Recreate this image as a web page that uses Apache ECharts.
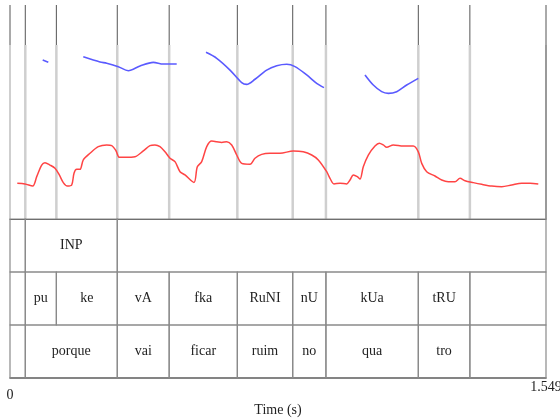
<!DOCTYPE html>
<html>
<head>
<meta charset="utf-8">
<script src="https://cdn.jsdelivr.net/npm/echarts@6/dist/echarts.min.js"></script>
<style>html,body{margin:0;padding:0;background:#fff}#c{width:560px;height:420px}</style>
</head>
<body>
<div id="c"></div>
<script>
// ---- data (time in s, contour heights in % of the plot panel) ----
var totalDuration = 1.549;
var tickLabels = [0, 1.549];
var axisName = 'Time (s)';

var pitchTime  = [0.0945,0.1107,null,0.2118,0.2601,0.2795,0.3130,0.3419,0.3757,0.4141,0.4430,0.4818,null,
                  0.5664,0.5974,0.6358,0.6696,0.6841,0.7080,0.7418,0.7708,0.7997,0.8236,0.8575,0.8863,0.9074,null,
                  1.0259,1.0499,1.0742,1.0933,1.1175,1.1464,1.1800];
var pitchValue = [74.3,73.2,null,75.8,73.4,72.8,71.2,69.3,71.5,73.2,72.4,72.4,null,
                  77.9,75.1,69.6,63.7,62.9,65.3,69.6,71.6,72.3,71.2,67.3,63.4,61.4,null,
                  67.3,62.6,59.5,58.7,59.5,62.6,65.7];

var intensityTime  = [0.0211,0.0433,0.0656,0.0772,0.0916,0.1011,0.1156,0.1300,0.1425,0.1540,0.1656,0.1783,0.1850,0.1928,0.2023,
                      0.2118,0.2312,0.2552,0.2795,0.2939,0.3063,0.3159,0.3323,0.3612,0.3852,0.4046,0.4190,0.4335,0.4479,0.4624,
                      0.4768,0.4913,0.5057,0.5317,0.5413,0.5540,0.5685,0.5829,0.5974,0.6118,0.6263,0.6407,0.6552,0.6696,0.6936,
                      0.7080,0.7274,0.7514,0.7803,0.8187,0.8476,0.8719,0.8910,0.9152,0.9248,0.9363,0.9537,0.9730,0.9826,0.9921,
                      1.0037,1.0115,1.0210,1.0355,1.0548,1.0673,1.0788,1.0886,1.1077,1.1366,1.1655,1.1800,1.1898,1.2042,1.2282,
                      1.2476,1.2667,1.2860,1.3005,1.3149,1.3389,1.3632,1.3921,1.4210,1.4499,1.4788,1.5028,1.5267];
var intensityValue = [16.7,16.4,15.4,19.8,25.2,26.3,25.2,23.7,20.6,17.0,15.4,15.9,21.4,23.2,23.2,
                      27.6,30.7,33.8,34.6,34.3,31.9,28.8,28.8,29.1,31.8,34.3,34.6,33.8,31.4,28.4,
                      26.8,22.1,20.6,17.1,24.4,26.8,33.8,36.4,36.1,35.8,36.1,34.6,29.9,26.0,25.6,
                      28.4,30.2,30.7,30.7,31.8,31.4,29.9,27.6,22.1,19.0,16.4,16.7,16.4,18.2,20.6,
                      19.8,18.7,24.4,29.9,34.1,35.4,34.6,33.5,34.6,34.1,34.1,31.4,26.0,22.1,20.1,
                      18.2,17.4,17.4,19.0,17.9,17.0,16.2,15.4,15.1,15.9,16.7,16.7,16.4];

var phraseBounds   = [0, 0.0442, 0.310, 1.549];
var phraseLabels   = ['', 'INP', ''];
var syllableBounds = [0, 0.0442, 0.134, 0.310, 0.460, 0.657, 0.817, 0.913, 1.180, 1.329, 1.549];
var syllableLabels = ['', 'pu', 'ke', 'vA', 'fka', 'RuNI', 'nU', 'kUa', 'tRU', ''];
var wordBounds     = [0, 0.0442, 0.310, 0.460, 0.657, 0.817, 0.913, 1.180, 1.329, 1.549];
var wordLabels     = ['', 'porque', 'vai', 'ficar', 'ruim', 'no', 'qua', 'tro', ''];

// ---- build series data ----
function pairs(ts, vs){ var out=[]; for(var i=0;i<ts.length;i++){ out.push(ts[i]===null?[null,null]:[ts[i],vs[i]]); } return out; }
var tiers = [[phraseBounds, phraseLabels],[syllableBounds, syllableLabels],[wordBounds, wordLabels]];
var cells = [];
tiers.forEach(function(t, k){
  for (var i=0;i<t[1].length;i++) cells.push([t[0][i], t[0][i+1], k, t[1][i]]);
});
var boundaryLines = syllableBounds.map(function(b){ return [b]; });

var FONT = '"Liberation Serif","Times New Roman",serif';
var chart = echarts.init(document.getElementById('c'), null, {renderer:'canvas'});
chart.setOption({
  animation: false,
  backgroundColor: '#fff',
  grid: [
    {left: 10, right: 14, top: 5, height: 214, outerBoundsMode: 'none', containLabel: false},
    {left: 10, right: 14, top: 219, height: 159, outerBoundsMode: 'none', containLabel: false}
  ],
  xAxis: [
    {gridIndex: 0, type: 'value', min: 0, max: totalDuration, position: 'top',
     axisLine: {show: true, lineStyle: {color: '#555', width: 1.2}},
     axisTick: {show: false}, axisLabel: {show: false}, splitLine: {show: false}},
    {gridIndex: 1, type: 'value', min: 0, max: totalDuration,
     axisLine: {show: true, onZero: false, lineStyle: {color: '#555', width: 1.5}},
     axisTick: {show: false}, splitLine: {show: false},
     axisLabel: {show: true, customValues: tickLabels, margin: 2, color: '#222',
       fontFamily: FONT, fontSize: 14, verticalAlign: 'top', hideOverlap: false,
       formatter: function(v){ return v === 0 ? '{lo|0}' : '{hi|' + v + '}'; },
       rich: {lo: {padding: [8,0,0,0], fontFamily: FONT, fontSize: 14, color: '#222'},
              hi: {padding: [0,0,0,0], fontFamily: FONT, fontSize: 14, color: '#222'}}},
     name: axisName, nameLocation: 'middle', nameGap: 24,
     nameTextStyle: {fontFamily: FONT, fontSize: 14, color: '#222', verticalAlign: 'top'}}
  ],
  yAxis: [
    {gridIndex: 0, type: 'value', min: 0, max: 100, show: false},
    {gridIndex: 1, type: 'value', min: 0, max: 3, inverse: true, show: false}
  ],
  series: [
    {type: 'custom', xAxisIndex: 0, yAxisIndex: 0, data: boundaryLines, silent: true, clip: false, z: 1,
     encode: {x: 0},
     renderItem: function(params, api){
       var t = api.value(0);
       var top = api.coord([t, 100]), bot = api.coord([t, 0]);
       var split = top[1] + 0.187 * (bot[1] - top[1]);
       var isEdge = (t === 0 || t === totalDuration);
       return {type: 'group', children: [
         {type: 'line', shape: {x1: top[0], y1: top[1], x2: top[0], y2: split},
          style: {stroke: '#555', lineWidth: 1}},
         {type: 'line', shape: {x1: top[0], y1: split, x2: top[0], y2: bot[1]},
          style: {stroke: (t === totalDuration ? '#9a9a9a' : '#cfcfcf'), lineWidth: isEdge ? 2 : 2.5}}
       ]};
     }},
    {type: 'line', xAxisIndex: 0, yAxisIndex: 0, data: pairs(intensityTime, intensityValue),
     showSymbol: false, smooth: 0.3, connectNulls: false, z: 3,
     lineStyle: {color: '#ff4444', width: 1.5}},
    {type: 'line', xAxisIndex: 0, yAxisIndex: 0, data: pairs(pitchTime, pitchValue),
     showSymbol: false, smooth: 0.3, connectNulls: false, z: 3,
     lineStyle: {color: '#5a5aff', width: 1.6}},
    {type: 'custom', xAxisIndex: 1, yAxisIndex: 1, data: cells, silent: true, clip: false, z: 2,
     encode: {x: [0, 1], y: 2},
     renderItem: function(params, api){
       var s = api.value(0), e = api.value(1), k = api.value(2);
       var p1 = api.coord([s, k]), p2 = api.coord([e, k + 1]);
       var label = cells[params.dataIndex][3];
       return {type: 'group', children: [
         {type: 'rect', shape: {x: p1[0], y: p1[1], width: p2[0]-p1[0], height: p2[1]-p1[1]},
          style: {fill: 'none', stroke: '#8a8a8a', lineWidth: 1.2}},
         {type: 'text', style: {text: label, x: (p1[0]+p2[0])/2, y: (p1[1]+p2[1])/2,
          align: 'center', verticalAlign: 'middle', fill: '#222', font: '14px ' + FONT}}
       ]};
     }}
  ]
});
</script>
</body>
</html>
